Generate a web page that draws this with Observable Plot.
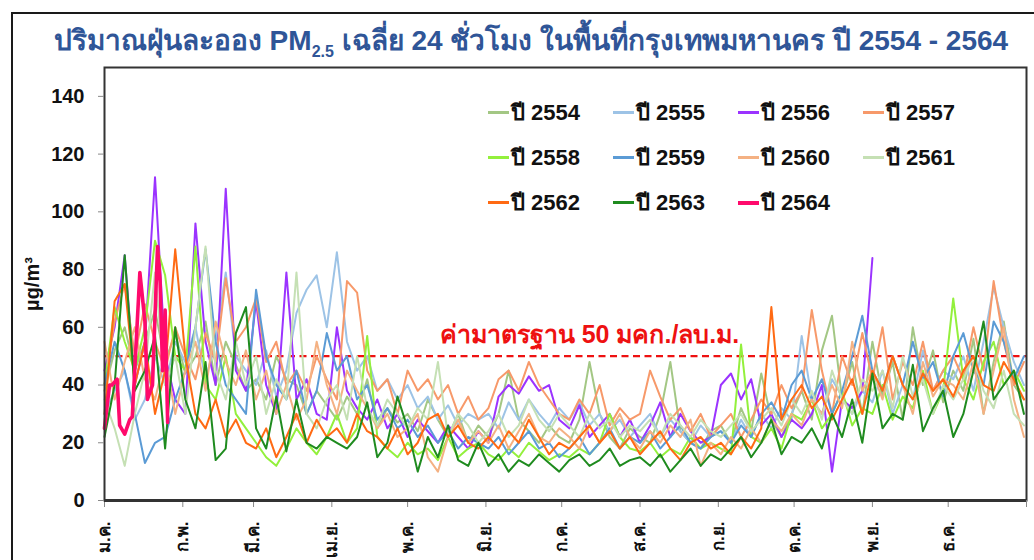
<!DOCTYPE html>
<html><head><meta charset="utf-8">
<script src="https://cdn.jsdelivr.net/npm/d3@7"></script>
<script src="https://cdn.jsdelivr.net/npm/@observablehq/plot@0.6"></script>
<style>
html,body{margin:0;padding:0;background:#fff;}
body{width:1034px;height:560px;position:relative;overflow:hidden;font-family:"Liberation Sans",Arial,"Noto Sans",sans-serif;}
#frame{position:absolute;left:11px;top:12px;width:1060px;height:620px;border:2px solid #1a1a1a;box-sizing:border-box;}
#title{position:absolute;left:0;top:23px;width:1062px;text-align:center;color:#2f5597;font-weight:bold;font-size:28px;line-height:36px;white-space:nowrap;}
#title sub{font-size:16px;vertical-align:-7px;line-height:0;}
#chart{position:absolute;left:0;top:0;}
.leg{position:absolute;display:flex;align-items:center;font-weight:bold;font-size:22px;color:#111;white-space:nowrap;}
.leg i{display:inline-block;width:21px;height:3px;margin-right:2px;}
</style>
</head><body>
<div id="frame"></div>
<div id="title">ปริมาณฝุ่นละออง PM<sub>2.5</sub> เฉลี่ย 24 ชั่วโมง ในพื้นที่กรุงเทพมหานคร ปี 2554 - 2564</div>
<div id="chart"></div>
<div id="legend"></div>
<script>
// ---- data ----
const years = ["2554","2555","2556","2557","2558","2559","2560","2561","2562","2563","2564"];
const colors = ["#a3c784","#9dc3e6","#9b33ff","#f7996a","#93f03c","#5b9bd5","#f4b183","#c5e0b4","#ff6a13","#1f8b1f","#ff0a6c"];
const monthLabels = ["ม.ค.","ก.พ.","มี.ค.","เม.ย.","พ.ค.","มิ.ย.","ก.ค.","ส.ค.","ก.ย.","ต.ค.","พ.ย.","ธ.ค."];
const monthStarts = [0,31,59,90,120,151,181,212,243,273,304,334];
const yearEnd = 365;
const yTicks = [0,20,40,60,80,100,120,140];
const standard = 50;
const standardLabel = "ค่ามาตรฐาน 50 มคก./ลบ.ม.";
const yLabel = "µg/m³";

// sample days (every 4th day of the year) for 2554-2563
const days = [0,4,8,12,16,20,24,28,32,36,40,44,48,52,56,60,64,68,72,76,80,84,88,92,96,100,104,108,112,116,120,124,128,132,136,140,144,148,152,156,160,164,168,172,176,180,184,188,192,196,200,204,208,212,216,220,224,228,232,236,240,244,248,252,256,260,264,268,272,276,280,284,288,292,296,300,304,308,312,316,320,324,328,332,336,340,344,348,352,356,360,364];

const y2554 = [38,52,60,45,55,66,48,58, 44,50,62,40,55,47,38, 42,35,50,42,40,30,38,33, 28,36,30,42,25,32,27, 30,24,35,28,22,30,20,26, 22,30,45,28,24,20,26,22, 20,28,48,30,22,18,25, 22,20,30,48,24,20,18,24, 26,20,32,24,44,28,22,30, 38,28,52,64,35,48,30, 55,36,48,28,60,40,52,34, 45,38,56,30,48,62,40,35];
const y2555 = [30,38,45,28,35,50,40,55, 48,60,42,55,79,50,45, 40,52,36,45,65,73,78,60, 86,55,45,50,38,42,35, 40,32,36,28,33,26,30,28, 30,25,34,28,35,30,26,32, 28,34,26,30,24,28,22, 26,30,22,28,24,20,26,22, 24,20,28,22,30,25,32,28, 57,35,30,42,36,30,38, 34,45,30,40,35,52,38,45, 42,50,38,55,74,60,48,40];
const y2556 = [45,60,85,40,55,112,50,35, 30,96,55,40,108,45,38, 69,40,30,79,35,42,30,28, 60,38,32,28,35,25,30, 22,28,24,20,26,22,18,24, 20,36,40,37,43,38,40,28, 25,33,22,26,30,22,28, 20,26,34,22,30,24,20,22, 40,44,35,42,26,30,22,28, 25,30,40,10,35,32,38, 84,null,null,null,null,null,null,null, null,null,null,null,null,null,null,null];
const y2557 = [40,62,75,50,68,55,45,60, 50,42,58,48,77,55,60, 70,48,55,40,45,38,50,42, 35,76,72,45,38,42,30, 45,38,42,35,40,30,36,28, 32,42,45,38,48,40,35,30, 28,35,30,40,26,32,28, 30,45,36,28,32,24,30,22, 26,30,22,28,35,30,40,32, 38,66,45,30,50,40,58, 42,60,35,48,40,55,38,45, 50,42,60,45,76,55,40,48];
const y2558 = [40,67,55,45,60,90,78,50, 45,88,40,35,50,30,25, 20,15,12,18,25,20,16,22, 30,20,25,57,22,18,15, 20,16,18,14,22,15,18,20, 16,14,18,15,20,17,14,16, 15,18,16,20,30,22,18, 17,20,15,18,16,22,18,20, 18,16,54,22,20,25,18,30, 28,35,25,30,38,26,32, 30,40,28,36,32,45,30,38, 70,42,35,48,55,40,45,38];
const y2559 = [40,55,45,30,13,20,22,35, 45,60,87,55,40,35,30, 73,50,40,35,45,30,38,58, 45,50,35,40,28,32,25, 28,22,26,20,24,18,22,20, 18,22,16,20,24,18,20,15, 18,22,16,20,25,18,22, 20,24,18,22,26,20,18,22, 24,20,26,22,30,34,28,40, 45,35,42,30,38,50,64, 45,38,50,40,55,42,48,36, 50,58,45,40,62,55,42,50];
const y2560 = [55,35,48,60,42,35,50,30, 45,55,38,62,48,40,52, 35,45,30,40,28,35,55,40, 30,45,38,32,25,30,22, 25,30,15,10,22,28,20,24, 20,26,18,24,30,22,20,25, 22,18,26,20,24,30,22, 18,24,20,26,22,28,12,20, 16,22,18,25,20,28,24,30, 26,35,30,40,32,55,38, 45,35,50,40,30,48,36,42, 40,35,48,30,45,60,35,22];
const y2561 = [35,25,12,30,45,79,40,50, 30,60,88,45,35,55,40, 50,30,42,35,79,30,25,35, 40,28,50,32,26,35,30, 25,32,28,48,22,30,26,20, 24,30,22,26,35,28,24,30, 26,22,30,25,28,22,26, 24,28,22,30,26,22,28,24, 22,26,30,24,28,32,26,35, 30,38,28,45,35,30,42, 38,45,32,50,36,42,30,40, 35,42,50,38,32,45,30,26];
const y2562 = [30,69,75,40,55,30,45,87, 50,30,25,35,22,28,20, 18,25,15,22,30,20,28,22, 25,20,30,24,22,18,25, 16,20,28,30,22,26,20,18, 22,18,24,20,28,22,16,20, 18,22,26,20,24,18,22, 16,20,24,18,14,20,22,18, 20,16,22,18,25,67,28,35, 40,32,36,28,35,42,30, 45,38,50,40,35,44,38,42, 36,45,50,40,38,48,42,35];
const y2563 = [22,40,85,38,45,57,18,60, 35,25,48,14,18,58,67, 25,18,36,17,35,20,18,22, 20,18,22,34,15,20,36, 25,10,22,15,26,14,12,20, 12,16,10,14,12,16,13,10, 14,16,12,14,18,12,14, 15,12,16,10,14,18,12,16, 14,18,22,15,20,28,16,22, 20,25,18,30,22,35,20, 44,25,30,28,47,24,32,38, 22,30,45,62,35,40,45,30];
// 2564: daily values in January only
const days2564 = [0,2,3,5,6,8,10,11,14,16,17,19,21,22,23,24,25];
const y2564 = [25,40,40,42,26,23,28,29,79,62,35,40,88,76,45,66,27];

const series = [y2554,y2555,y2556,y2557,y2558,y2559,y2560,y2561,y2562,y2563];
const rows = [];
series.forEach((vals, k) => vals.forEach((v, i) => rows.push({year: years[k], day: days[i], value: v})));
const rows2564 = y2564.map((v, i) => ({year: "2564", day: days2564[i], value: v}));

const fontFam = '"Liberation Sans", Arial, "Noto Sans", sans-serif';
const xTicks = [...monthStarts, yearEnd];

const chart = Plot.plot({
  width: 1034, height: 560,
  marginLeft: 104, marginRight: 8, marginTop: 67, marginBottom: 60,
  style: {fontFamily: fontFam, background: "transparent", overflow: "visible"},
  x: {domain: [0, yearEnd]},
  y: {domain: [0, 150]},
  color: {domain: years, range: colors},
  marks: [
    Plot.ruleY([standard], {stroke: "#ee1111", strokeWidth: 2.2, strokeDasharray: "7,4.5"}),
    Plot.line(rows, {x: "day", y: "value", z: "year", stroke: "year", strokeWidth: 2, strokeLinejoin: "round"}),
    Plot.line(rows2564, {x: "day", y: "value", stroke: "year", strokeWidth: 3.6, strokeLinejoin: "round"}),
    Plot.text([standardLabel], {y: () => standard, text: d => d, frameAnchor: "middle", dx: 24, dy: -21, fill: "#ee1111", fontWeight: "bold", fontSize: 25}),
    Plot.frame({stroke: "#333", strokeWidth: 2}),
    Plot.axisY({ticks: yTicks, tickSize: 6, tickPadding: 14, fontSize: 20, fontWeight: "bold", stroke: "#888", color: "#111",
      label: yLabel, labelAnchor: "center", labelArrow: "none", labelOffset: 80}),
    Plot.axisX({ticks: xTicks, tickSize: 7, tickPadding: 14, tickRotate: -90, fontSize: 17, fontWeight: "bold", stroke: "#888", color: "#111",
      tickFormat: d => { const i = monthStarts.indexOf(d); return i >= 0 ? monthLabels[i] : ""; }, label: null}),
    Plot.ruleY([0], {stroke: "#333", strokeWidth: 3})
  ]
});
document.getElementById("chart").appendChild(chart);
// enforce type sizes on the axis texts
chart.querySelectorAll("[aria-label='y-axis tick label'] text").forEach(t => { t.style.fontSize = "20px"; t.style.fontWeight = "bold"; });
chart.querySelectorAll("[aria-label='y-axis label'] text").forEach(t => { t.style.fontSize = "20px"; t.style.fontWeight = "bold"; });

// legend
const leg = document.getElementById("legend");
years.forEach((y, i) => {
  const col = i % 4, row = Math.floor(i / 4);
  const el = document.createElement("div");
  el.className = "leg";
  el.style.left = (488 + col * 125) + "px";
  el.style.top = (95 + row * 45) + "px";
  el.innerHTML = `<i style="background:${colors[i]};height:${y === "2564" ? 4 : 3}px"></i>ปี ${y}`;
  leg.appendChild(el);
});
</script>
</body></html>
